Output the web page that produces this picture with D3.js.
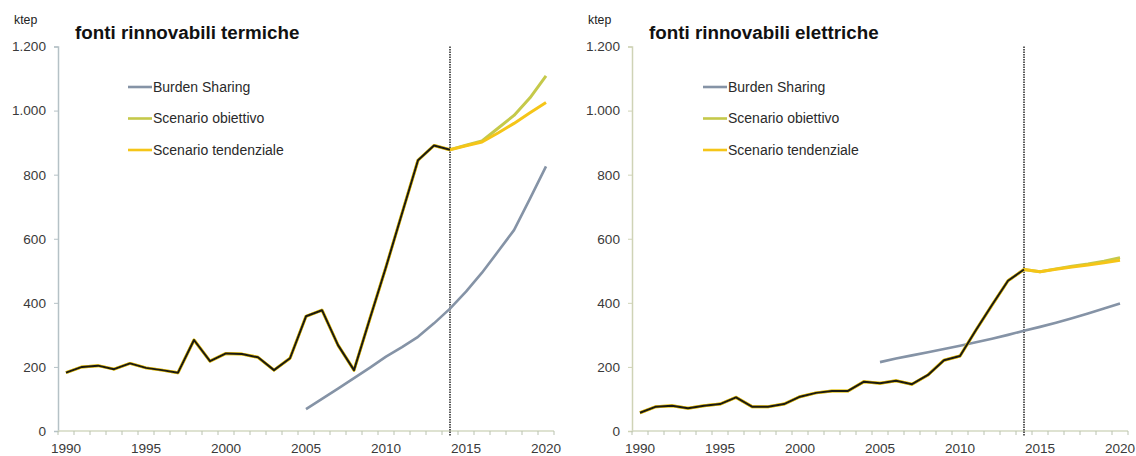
<!DOCTYPE html>
<html>
<head>
<meta charset="utf-8">
<script src="https://cdn.jsdelivr.net/npm/d3@7"></script>
<style>
  html, body { margin: 0; padding: 0; background: #fff; }
  svg { display: block; font-family: "Liberation Sans", Arial, sans-serif; }
</style>
</head>
<body>
<svg id="chart" width="1136" height="456"></svg>
<script>
// ---------- DATA ----------
const years = [1990,1991,1992,1993,1994,1995,1996,1997,1998,1999,2000,2001,2002,2003,2004,2005,2006,2007,2008,2009,2010,2011,2012,2013,2014,2015,2016,2017,2018,2019,2020];
const yearsStorico = [1990,1991,1992,1993,1994,1995,1996,1997,1998,1999,2000,2001,2002,2003,2004,2005,2006,2007,2008,2009,2010,2011,2012,2013,2014];
const yearsScenario = [2014,2015,2016,2017,2018,2019,2020];
const yearsBurden = [2005,2006,2007,2008,2009,2010,2011,2012,2013,2014,2015,2016,2017,2018,2019,2020];
const xTickLabels = [1990,1995,2000,2005,2010,2015,2020];
const yTicks = [0,200,400,600,800,1000,1200];
const seriesNames = ["Burden Sharing","Scenario obiettivo","Scenario tendenziale"];

// fonti rinnovabili termiche (ktep)
const termStorico = [182,200,204,193,211,197,190,182,284,218,242,240,230,190,227,358,377,268,190,352,512,679,845,891,878];
const termObiettivo = [878,892,905,945,985,1040,1108];
const termTendenziale = [878,890,902,930,960,993,1025];
const termBurden = [68,100,132,165,198,232,262,294,336,382,435,494,560,627,725,826];

// fonti rinnovabili elettriche (ktep)
const elettStorico = [57,76,79,71,79,84,105,76,76,84,107,119,125,125,154,149,157,146,175,221,234,315,393,469,504];
const elettObiettivo = [504,497,506,514,521,530,541];
const elettTendenziale = [504,497,505,512,518,525,533];
const elettBurden = [215,226,236,246,256,266,277,288,300,313,325,338,352,367,382,398];

// ---------- STYLE ----------
const colBurden = "#8593a6";
const colObiettivo = "#c5c94a";
const colTendenziale = "#f5c518";
const colStorico = "#1a1a12";
const legendColors = [colBurden, colObiettivo, colTendenziale];

const itLocale = d3.formatLocale({decimal: ",", thousands: ".", grouping: [3], currency: ["", "€"]});
const fmt = itLocale.format(",");

const svg = d3.select("#chart");

function drawPanel(opt) {
  const g = svg.append("g");
  const x = d3.scaleBand().domain(years).range([opt.x0, opt.x0 + 496]).padding(0);
  const y = d3.scaleLinear().domain([0, 1200]).range([431, 46.5]);
  const cx = d => x(d) + x.bandwidth() / 2;

  // y axis
  const yAxis = g.append("g").attr("transform", `translate(${opt.x0},0)`)
    .call(d3.axisLeft(y).tickValues(yTicks).tickFormat(fmt).tickSize(4).tickPadding(8));
  yAxis.select(".domain").attr("stroke", opt.yAxisColor).attr("stroke-width", 1.5);
  yAxis.selectAll(".tick line").attr("stroke", opt.yAxisColor);
  yAxis.selectAll(".tick text").attr("fill", "#3a3a3a").attr("font-size", 13.6)
    .attr("font-family", "Liberation Sans, Arial, sans-serif");

  // x axis line + ticks at band boundaries
  const xg = g.append("g");
  xg.append("line").attr("x1", opt.x0).attr("x2", opt.x0 + 496).attr("y1", y(0)).attr("y2", y(0))
    .attr("stroke", "#d3d9c2").attr("stroke-width", 1.5);
  const bounds = years.map(d => x(d)).concat([x(years[years.length - 1]) + x.bandwidth()]);
  xg.selectAll("line.tk").data(bounds).enter().append("line").attr("class", "tk")
    .attr("x1", d => d).attr("x2", d => d).attr("y1", y(0)).attr("y2", y(0) + 4)
    .attr("stroke", "#b9c2b0").attr("stroke-width", 1);
  xg.selectAll("text").data(xTickLabels).enter().append("text")
    .attr("x", d => cx(d)).attr("y", 452.5).attr("text-anchor", "middle")
    .attr("font-size", 13.6).attr("fill", "#3a3a3a").text(d => d);

  // vertical dotted line at 2014
  g.append("line").attr("x1", cx(2014)).attr("x2", cx(2014)).attr("y1", y(1200)).attr("y2", y(0) + 5)
    .attr("stroke", "#333").attr("stroke-width", 1.6).attr("stroke-dasharray", "1.5,1");

  const line = d3.line().x(d => cx(d[0])).y(d => y(d[1]));
  const zip = (xs, vs) => xs.map((d, i) => [d, vs[i]]);

  // burden sharing
  g.append("path").datum(zip(yearsBurden, opt.burden)).attr("d", line)
    .attr("fill", "none").attr("stroke", colBurden).attr("stroke-width", 2.6).attr("stroke-linejoin", "round");
  // scenario obiettivo (with history underlay)
  g.append("path").datum(zip(yearsStorico, opt.storico).concat(zip(yearsScenario.slice(1), opt.obiettivo.slice(1))))
    .attr("d", line).attr("fill", "none").attr("stroke", colObiettivo).attr("stroke-width", 3).attr("stroke-linejoin", "round");
  // scenario tendenziale
  g.append("path").datum(zip(yearsStorico, opt.storico).concat(zip(yearsScenario.slice(1), opt.tendenziale.slice(1))))
    .attr("d", line).attr("fill", "none").attr("stroke", colTendenziale).attr("stroke-width", 3).attr("stroke-linejoin", "round");
  // storico (black)
  g.append("path").datum(zip(yearsStorico, opt.storico)).attr("d", line)
    .attr("fill", "none").attr("stroke", colStorico).attr("stroke-width", 2).attr("stroke-linejoin", "round");

  // title + unit
  g.append("text").attr("x", opt.x0 + 17).attr("y", 39).attr("font-size", 18.8).attr("font-weight", "bold")
    .attr("fill", "#111").text(opt.title);
  g.append("text").attr("x", opt.x0 - 44).attr("y", 24).attr("font-size", 12.3).attr("fill", "#222").text("ktep");

  // legend
  const lg = g.append("g");
  seriesNames.forEach((n, i) => {
    const ly = 87 + i * 31.5;
    lg.append("line").attr("x1", opt.legendX).attr("x2", opt.legendX + 24).attr("y1", ly).attr("y2", ly)
      .attr("stroke", legendColors[i]).attr("stroke-width", 2.6);
    lg.append("text").attr("x", opt.legendX + 25).attr("y", ly + 4.8).attr("font-size", 14)
      .attr("fill", "#2a2a2a").text(n);
  });
}

drawPanel({x0: 58, title: "fonti rinnovabili termiche", storico: termStorico, obiettivo: termObiettivo,
  tendenziale: termTendenziale, burden: termBurden, legendX: 128, yAxisColor: "#b5c1c6"});
drawPanel({x0: 632, title: "fonti rinnovabili elettriche", storico: elettStorico, obiettivo: elettObiettivo,
  tendenziale: elettTendenziale, burden: elettBurden, legendX: 703, yAxisColor: "#cfd3b6"});
</script>
</body>
</html>
